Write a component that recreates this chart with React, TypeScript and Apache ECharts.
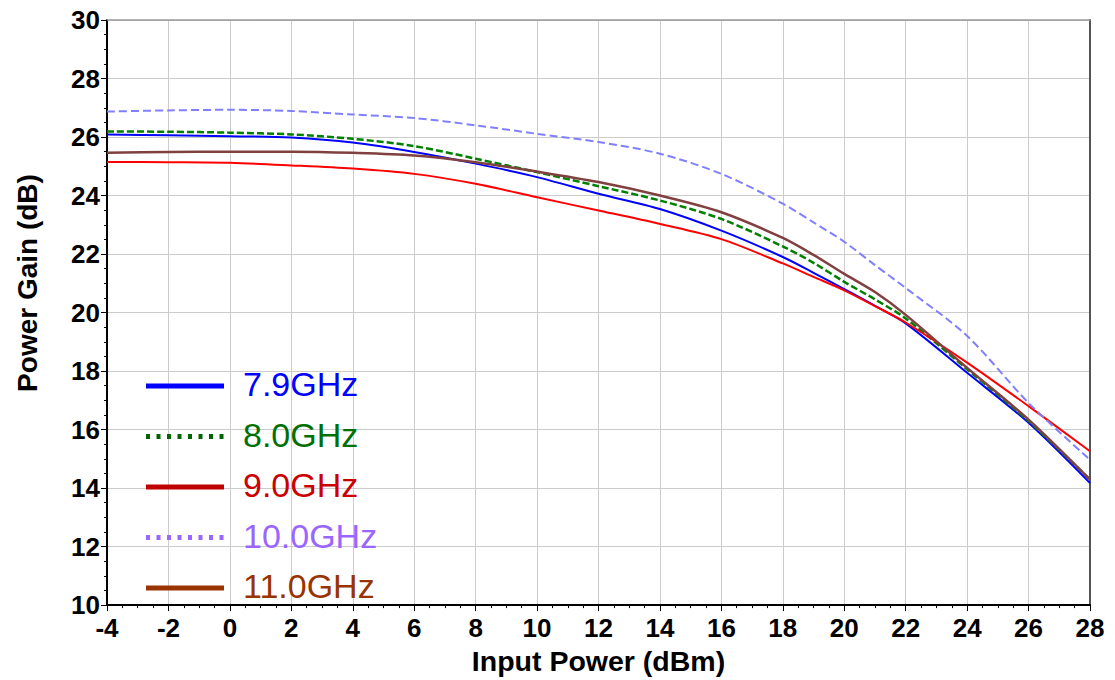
import React, { useEffect, useRef } from "react";
import * as echarts from "echarts";

const xValues = [-4, -2, 0, 2, 4, 6, 8, 10, 12, 14, 16, 18, 19, 20, 21, 22, 24, 26, 28];
const gain79 = [26.09, 26.06, 26.03, 25.98, 25.81, 25.49, 25.09, 24.63, 24.06, 23.54, 22.8, 21.9, 21.36, 20.8, 20.23, 19.63, 17.94, 16.23, 14.17];
const gain80 = [26.19, 26.18, 26.15, 26.09, 25.94, 25.69, 25.26, 24.8, 24.32, 23.83, 23.2, 22.26, 21.7, 21.05, 20.45, 19.8, 18.06, 16.29, 14.29];
const gain90 = [25.15, 25.14, 25.12, 25.03, 24.92, 24.74, 24.4, 23.94, 23.49, 23.03, 22.51, 21.68, 21.22, 20.76, 20.22, 19.66, 18.29, 16.8, 15.26];
const gain100 = [26.87, 26.91, 26.93, 26.89, 26.77, 26.65, 26.4, 26.11, 25.83, 25.43, 24.74, 23.72, 23.08, 22.42, 21.62, 20.84, 19.2, 16.91, 14.97];
const gain110 = [25.46, 25.49, 25.5, 25.5, 25.46, 25.37, 25.14, 24.82, 24.46, 24.0, 23.43, 22.55, 21.97, 21.32, 20.7, 19.92, 18.11, 16.34, 14.29];

const seriesNames = ["7.9GHz", "8.0GHz", "9.0GHz", "10.0GHz", "11.0GHz"];
const seriesData = [gain79, gain80, gain90, gain100, gain110];
const lineColors = ["#0000ff", "#008000", "#ff0000", "#8080ff", "#804040"];
const lineDashes: (string | number[])[] = ["solid", [7, 3], "solid", [8, 4], "solid"];
const lineWidths = [2, 2.5, 2, 2, 2.5];
const legendTextColors = ["#0000ff", "#007000", "#cc0000", "#9966ff", "#993300"];
const legendLineColors = ["#0000ff", "#006400", "#c00000", "#9966ff", "#993300"];
const legendDashes: (string | number[])[] = ["solid", [4, 6.5], "solid", [4, 6.5], "solid"];

const FONT = "'Liberation Sans', Arial, sans-serif";

export default function App() {
  const ref = useRef<HTMLDivElement>(null);
  useEffect(() => {
    document.body.style.margin = "0";
    if (!ref.current) return;
    const chart = echarts.init(ref.current, undefined, { renderer: "svg" });
    const legendTop = 386;
    const legendStep = 50.5;
    const legendGraphics: any[] = [];
    seriesNames.forEach((name, i) => {
      const y = legendTop + i * legendStep;
      legendGraphics.push({
        type: "line",
        shape: { x1: 146, y1: y, x2: 224, y2: y },
        style: {
          stroke: legendLineColors[i],
          lineWidth: 5,
          lineDash: legendDashes[i] === "solid" ? null : legendDashes[i],
        },
        z: 10,
      });
      legendGraphics.push({
        type: "text",
        x: 243,
        y: y - 2,
        style: {
          text: name,
          fill: legendTextColors[i],
          font: `34px ${FONT}`,
          textVerticalAlign: "middle",
          textAlign: "left",
        },
        z: 10,
      });
    });
    legendGraphics.push({
      type: "text",
      x: 27,
      y: 283,
      rotation: Math.PI / 2,
      style: {
        text: "Power Gain (dB)",
        fill: "#000",
        font: `bold 28px ${FONT}`,
        textAlign: "center",
        textVerticalAlign: "middle",
      },
    });

    chart.setOption({
      animation: false,
      backgroundColor: "#fff",
      grid: { left: 107, right: 25, top: 20, bottom: 73, containLabel: false },
      xAxis: [
        {
          type: "value",
          min: -4,
          max: 28,
          interval: 2,
          name: "Input Power (dBm)",
          nameLocation: "middle",
          nameGap: 40,
          nameTextStyle: { fontFamily: FONT, fontSize: 28.5, fontWeight: "bold", color: "#000" },
          axisLine: { show: true, onZero: false, lineStyle: { color: "#000", width: 2 } },
          axisTick: { show: true, length: 6, lineStyle: { color: "#000" } },
          minorTick: { show: true, splitNumber: 4, length: 3, lineStyle: { color: "#000" } },
          splitLine: { show: true, lineStyle: { color: "#cccccc", width: 1 } },
          axisLabel: { fontFamily: FONT, fontSize: 26, fontWeight: "bold", color: "#000", margin: 10 },
        },
        {
          type: "value",
          position: "top",
          min: -4,
          max: 28,
          interval: 2,
          axisLine: { show: true, onZero: false, lineStyle: { color: "#999", width: 1.5 } },
          axisTick: { show: false },
          axisLabel: { show: false },
          splitLine: { show: false },
        },
      ],
      yAxis: [
        {
          type: "value",
          min: 10,
          max: 30,
          interval: 2,
          axisLine: { show: true, onZero: false, lineStyle: { color: "#000", width: 2 } },
          axisTick: { show: true, length: 6, lineStyle: { color: "#000" } },
          minorTick: { show: true, splitNumber: 4, length: 3, lineStyle: { color: "#000" } },
          splitLine: { show: true, lineStyle: { color: "#cccccc", width: 1 } },
          axisLabel: { fontFamily: FONT, fontSize: 26, fontWeight: "bold", color: "#000", margin: 7 },
        },
        {
          type: "value",
          position: "right",
          min: 10,
          max: 30,
          interval: 2,
          axisLine: { show: true, onZero: false, lineStyle: { color: "#555", width: 2 } },
          axisTick: { show: false },
          axisLabel: { show: false },
          splitLine: { show: false },
        },
      ],
      series: seriesNames.map((name, i) => ({
        name,
        type: "line",
        xAxisIndex: 0,
        yAxisIndex: 0,
        data: xValues.map((x, j) => [x, seriesData[i][j]]),
        showSymbol: false,
        symbol: "none",
        smooth: 0.3,
        lineStyle: { color: lineColors[i], width: lineWidths[i], type: lineDashes[i] },
        z: 3,
      })),
      graphic: legendGraphics,
    });
    return () => chart.dispose();
  }, []);
  return <div ref={ref} style={{ width: 1115, height: 680 }} />;
}
